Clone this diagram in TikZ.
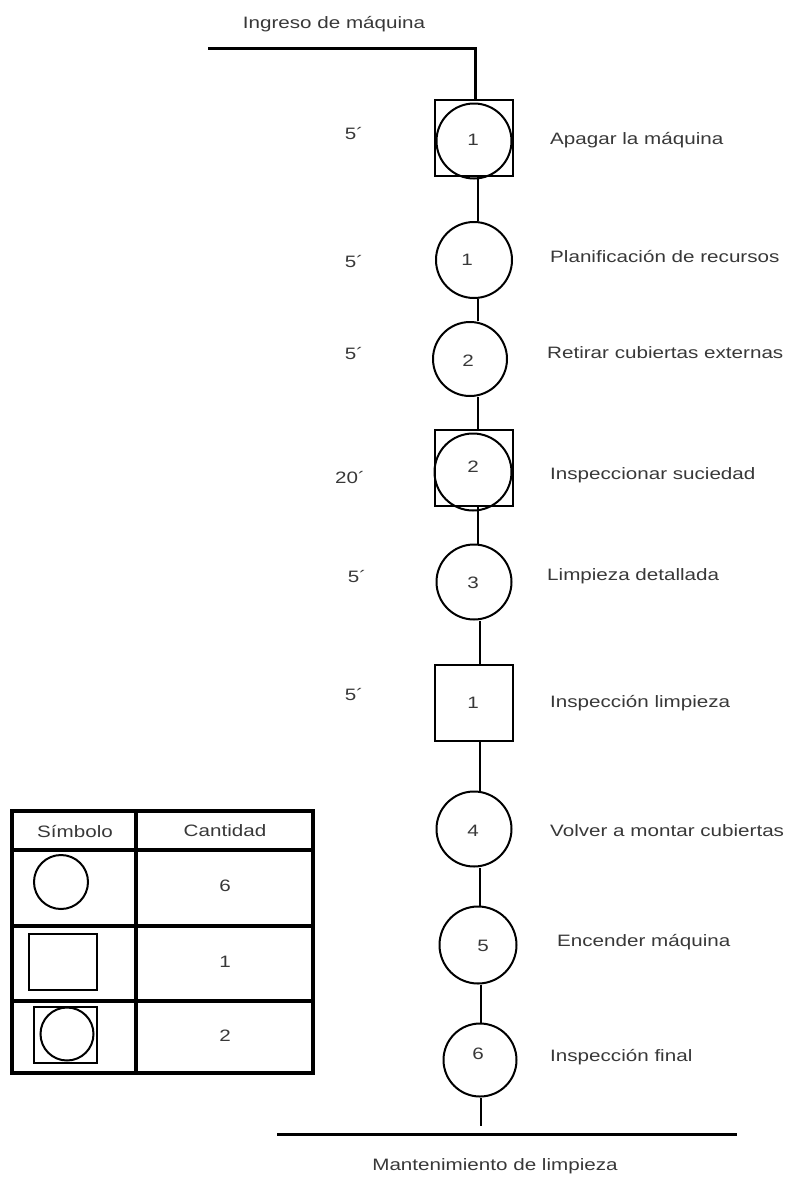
\documentclass[tikz,border=0pt]{standalone}
\usepackage{fontspec}
\setmainfont{Liberation Sans}[FakeStretch=1.25]
\definecolor{txt}{rgb}{0.22,0.22,0.22}
\begin{document}
\begin{tikzpicture}[x=1pt,y=-1pt,
  every node/.style={font=\fontsize{16.5}{18}\selectfont, text=txt},
  opcircle/.style={draw, circle, minimum size=76pt, inner sep=0pt, line width=2pt},
  inspbox/.style={draw, rectangle, minimum width=78pt, minimum height=76pt, inner sep=0pt, line width=2.8pt},
  symcircle/.style={draw, circle, minimum size=54pt, inner sep=0pt, line width=2pt},
  flow/.style={line width=2.6pt},
  rule/.style={line width=3pt},
  grid/.style={line width=3.2pt},
  timelbl/.style={anchor=center},
  steplbl/.style={anchor=west, inner sep=0pt}]
\useasboundingbox (0,0) rectangle (792,1183);

% entry and exit lines
\node (entry) at (334,24) {Ingreso de máquina};
\coordinate (inL) at (208,48);
\coordinate (inC) at (475,48);
\node (exit) at (495,1166) {Mantenimiento de limpieza};
\coordinate (outL) at (277,1134);
\coordinate (outR) at (737,1134);
\coordinate (outEnd) at (481,1126);

% combined operation / inspection 1
\node[inspbox] (sq1) at (474,138) {};
\node[opcircle, minimum size=75pt] (op1) at (474,141) {};
\node at (473,140) {1};
% operations and inspections down the line
\node[opcircle] (c1) at (474,260) {};
\node at (467,260) {1};
\node[opcircle, minimum size=74pt] (c2) at (470,359) {};
\node at (468,361) {2};
\node[inspbox] (sq2) at (474,468) {};
\node[opcircle, minimum size=77pt] (op2) at (473,472) {};
\node at (473,467) {2};
\node[opcircle, minimum size=75pt] (c3) at (474,582) {};
\node at (473,583) {3};
\node[inspbox] (sq3) at (474,703) {};
\node at (473,703) {1};
\node[opcircle, minimum size=75pt] (c4) at (474,829) {};
\node at (473,831) {4};
\node[opcircle, minimum size=77pt] (c5) at (478,945) {};
\node at (483,946) {5};
\node[opcircle, minimum size=73pt] (c6) at (480,1060) {};
\node at (478,1054) {6};

% connectors
\draw[rule] (inL) -- (inC) -- (inC |- sq1.north);
\draw[flow] ([xshift=4pt]sq1.south) -- ([xshift=4pt]sq1.south |- c1.north);
\draw[flow] ([xshift=4pt]c1.south) -- ([xshift=4pt]c1.south |- c2.north);
\draw[flow] ([xshift=4pt]sq2.north |- c2.south) -- ([xshift=4pt]sq2.north);
\draw[flow] ([xshift=4pt]sq2.south) -- ([xshift=4pt]sq2.south |- c3.north);
\draw[flow] ([xshift=6pt]c3.south) -- ([xshift=6pt]c3.south |- sq3.north);
\draw[flow] ([xshift=6pt]sq3.south) -- ([xshift=6pt]sq3.south |- c4.north);
\draw[flow] ([xshift=6pt]c4.south) -- ([xshift=6pt]c4.south |- c5.north);
\draw[flow] ([xshift=3pt]c5.south) -- ([xshift=3pt]c5.south |- c6.north);
\draw[flow] ([xshift=1pt]c6.south) -- ([xshift=1pt]c6.south |- outEnd);
\draw[rule] (outL) -- (outR);

% times
\node[timelbl] (t1) at (354,134) {5´};
\node[timelbl] (t2) at (354,262) {5´};
\node[timelbl] (t3) at (354,354) {5´};
\node[timelbl] (t4) at (350,477) {20´};
\node[timelbl] (t5) at (357,576) {5´};
\node[timelbl] (t6) at (354,694) {5´};

% step descriptions
\node[steplbl] (s1) at (550,140) {Apagar la máquina};
\node[steplbl] (s2) at (550,257) {Planificación de recursos};
\node[steplbl] (s3) at (547,353) {Retirar cubiertas externas};
\node[steplbl] (s4) at (550,475) {Inspeccionar suciedad};
\node[steplbl] (s5) at (547,576) {Limpieza detallada};
\node[steplbl] (s6) at (550,703) {Inspección limpieza};
\node[steplbl] (s7) at (550,831) {Volver a montar cubiertas};
\node[steplbl] (s8) at (557,942) {Encender máquina};
\node[steplbl] (s9) at (550,1057) {Inspección final};

% summary table
\draw[grid] (12,811) rectangle (313,1073);
\draw[grid] (136,811) -- (136,1073);
\draw[grid] (12,850) -- (313,850);
\draw[grid] (12,926) -- (313,926);
\draw[grid] (12,1001) -- (313,1001);
\node (hsym) at (75,831) {Símbolo};
\node (hcnt) at (225,831) {Cantidad};
\node[symcircle] (lc) at (61,882) {};
\node (n1) at (225,886) {6};
\node[draw, rectangle, minimum width=68pt, minimum height=56pt, line width=2.8pt] (ls) at (63,962) {};
\node (n2) at (225,962) {1};
\node[draw, rectangle, minimum width=63pt, minimum height=56pt, line width=2.8pt] (lb) at (65.5,1035) {};
\node[symcircle, minimum size=53pt] (lbc) at (67,1034) {};
\node (n3) at (225,1036) {2};
\end{tikzpicture}
\end{document}
